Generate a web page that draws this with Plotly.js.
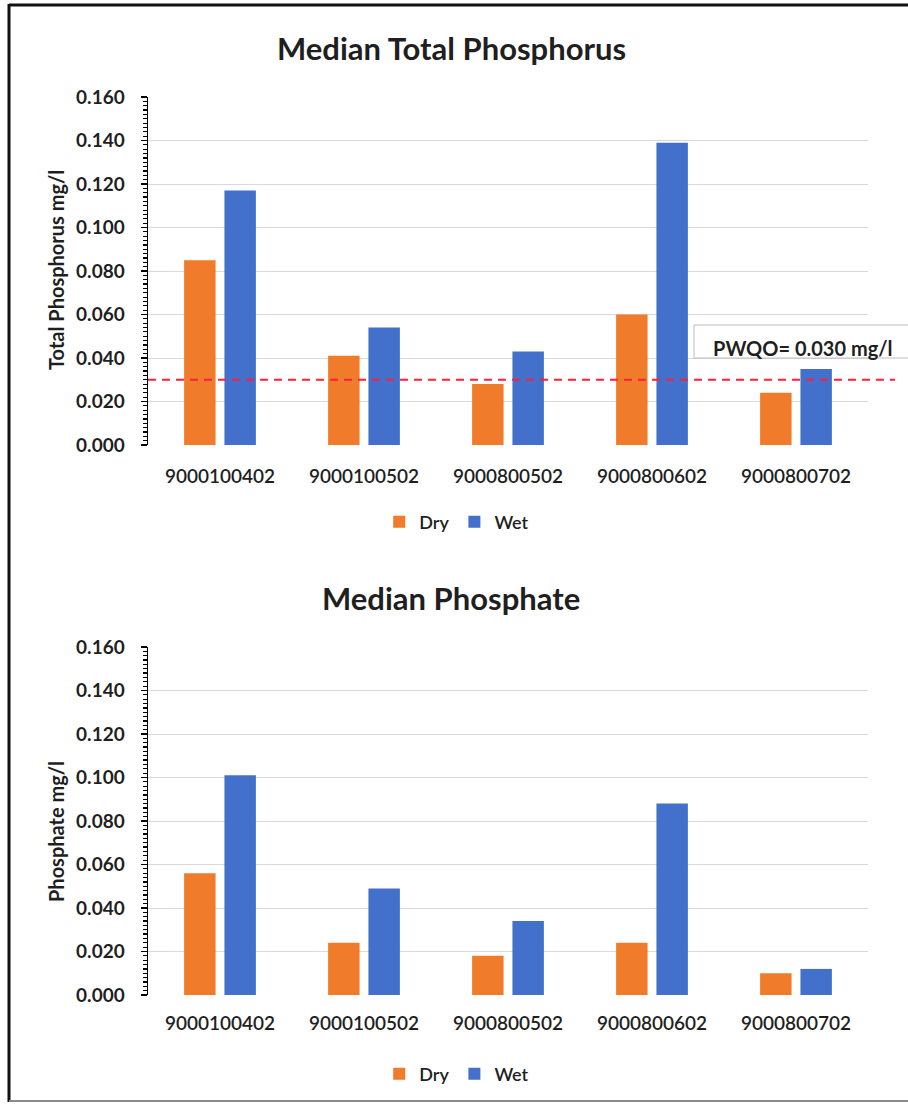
<!DOCTYPE html>
<html>
<head>
<meta charset="utf-8">
<script src="https://cdn.plot.ly/plotly-3.0.1.min.js"></script>
<style>
  html, body { margin: 0; padding: 0; background: #ffffff; }
  #chart { width: 908px; height: 1107px; }
</style>
</head>
<body>
<div id="chart"></div>
<script>
// Monitoring stations
const stations = ['9000100402', '9000100502', '9000800502', '9000800602', '9000800702'];

// Median total phosphorus (mg/l)
const tpDry = [0.085, 0.041, 0.028, 0.060, 0.024];
const tpWet = [0.117, 0.054, 0.043, 0.139, 0.035];

// Median phosphate (mg/l)
const poDry = [0.056, 0.024, 0.018, 0.024, 0.010];
const poWet = [0.101, 0.049, 0.034, 0.088, 0.012];

// Provincial Water Quality Objective for total phosphorus
const pwqo = 0.030;
const pwqoLabel = 'PWQO= 0.030 mg/l';

const yTicks = [0, 0.02, 0.04, 0.06, 0.08, 0.10, 0.12, 0.14, 0.16];

const ORANGE = '#EF7B2B';
const BLUE = '#4270CB';
const FONT = 'Lato, "Open Sans", sans-serif';
const TEXT = '#1f1f1f';

const W = 908, H = 1107;
const px = v => v / W;          // horizontal pixel -> paper
const py = v => 1 - v / H;      // vertical pixel -> paper

const traces = [
  { type: 'bar', name: 'Dry', x: stations, y: tpDry, marker: { color: ORANGE },
    xaxis: 'x', yaxis: 'y', legend: 'legend' },
  { type: 'bar', name: 'Wet', x: stations, y: tpWet, marker: { color: BLUE },
    xaxis: 'x', yaxis: 'y', legend: 'legend' },
  { type: 'bar', name: 'Dry', x: stations, y: poDry, marker: { color: ORANGE },
    xaxis: 'x2', yaxis: 'y2', legend: 'legend2' },
  { type: 'bar', name: 'Wet', x: stations, y: poWet, marker: { color: BLUE },
    xaxis: 'x2', yaxis: 'y2', legend: 'legend2' }
];

function yAxis(domain, anchor) {
  return {
    domain: domain, anchor: anchor,
    range: [0, 0.16], tickvals: yTicks, tickformat: '.3f',
    showgrid: true, gridcolor: '#d9d9d9', gridwidth: 1, zeroline: false,
    showline: true, linecolor: '#000000', linewidth: 1.5,
    ticks: 'outside', ticklen: 6, tickcolor: '#000000', tickwidth: 1.5,
    minor: { dtick: 0.002, ticks: 'outside', ticklen: 4, tickcolor: '#000000', tickwidth: 1.2, showgrid: false },
    ticklabelstandoff: 12,
    tickfont: { family: FONT, size: 19, color: TEXT, weight: 'bold' },
    fixedrange: true
  };
}

function xAxis(anchor, standoff) {
  return {
    domain: [px(148), px(868)], anchor: anchor,
    type: 'category', showline: false, ticks: '', showgrid: false, zeroline: false,
    ticklabelstandoff: standoff,
    tickfont: { family: FONT, size: 19, color: TEXT, weight: 600 },
    fixedrange: true
  };
}

function legendAt(yPix) {
  return {
    orientation: 'h', x: 0.503, xanchor: 'center', y: py(yPix), yanchor: 'middle',
    font: { family: FONT, size: 18, color: TEXT, weight: 600 }, itemwidth: 30,
    bgcolor: 'rgba(0,0,0,0)', traceorder: 'normal'
  };
}

const titleFont = { family: FONT, size: 31, color: TEXT, weight: 'bold' };
const axisTitleFont = { family: FONT, size: 20, color: TEXT, weight: 'bold' };

const layout = {
  width: W, height: H,
  margin: { l: 0, r: 0, t: 0, b: 0 },
  paper_bgcolor: '#ffffff', plot_bgcolor: '#ffffff',
  barmode: 'group', bargap: 0.44, bargroupgap: 0.22,
  showlegend: true,
  xaxis: xAxis('y', 18),
  yaxis: yAxis([py(445), py(97)], 'x'),
  xaxis2: xAxis('y2', 15),
  yaxis2: yAxis([py(995), py(647)], 'x2'),
  legend: legendAt(522),
  legend2: legendAt(1074),
  annotations: [
    { text: 'Median Total Phosphorus', xref: 'paper', yref: 'paper', x: px(451), y: py(48),
      xanchor: 'center', yanchor: 'middle', showarrow: false, font: titleFont },
    { text: 'Median Phosphate', xref: 'paper', yref: 'paper', x: px(451), y: py(598),
      xanchor: 'center', yanchor: 'middle', showarrow: false, font: titleFont },
    { text: 'Total Phosphorus mg/l', xref: 'paper', yref: 'paper', x: px(56), y: py(270),
      xanchor: 'center', yanchor: 'middle', textangle: -90, showarrow: false, font: axisTitleFont },
    { text: 'Phosphate mg/l', xref: 'paper', yref: 'paper', x: px(56), y: py(832),
      xanchor: 'center', yanchor: 'middle', textangle: -90, showarrow: false, font: axisTitleFont },
    { text: pwqoLabel, xref: 'paper', yref: 'paper', x: px(711), y: py(348),
      xanchor: 'left', yanchor: 'middle', showarrow: false,
      font: { family: FONT, size: 20, color: TEXT, weight: 'bold' } }
  ],
  shapes: [
    // PWQO guideline across the total phosphorus panel
    { type: 'line', xref: 'paper', yref: 'y', x0: px(148), x1: px(895), y0: pwqo, y1: pwqo,
      line: { color: '#ff1f3d', width: 2, dash: '8px,6px' } },
    // label box, running off the right edge
    { type: 'rect', xref: 'paper', yref: 'paper', x0: px(694), x1: px(915), y0: py(358), y1: py(325),
      line: { color: '#bdbdbd', width: 1 }, fillcolor: 'rgba(255,255,255,0)' },
    // frame
    { type: 'line', xref: 'paper', yref: 'paper', x0: px(9), x1: 1.01, y0: py(5), y1: py(5),
      line: { color: '#111111', width: 3 } },
    { type: 'line', xref: 'paper', yref: 'paper', x0: px(9), x1: px(9), y0: py(4), y1: py(1102),
      line: { color: '#111111', width: 3 } },
    { type: 'line', xref: 'paper', yref: 'paper', x0: px(9), x1: 1.01, y0: py(1101), y1: py(1101),
      line: { color: '#8a8a8a', width: 2 } }
  ]
};

Plotly.newPlot('chart', traces, layout, { displayModeBar: false, staticPlot: true });
</script>
</body>
</html>
